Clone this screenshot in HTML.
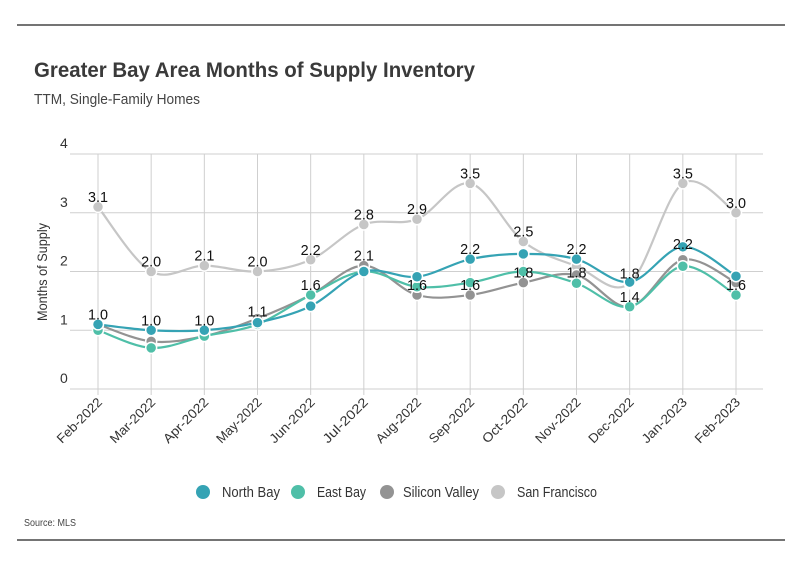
<!DOCTYPE html>
<html><head><meta charset="utf-8"><style>
body{margin:0;background:#fff;}
svg{display:block;font-family:"Liberation Sans",sans-serif;}
</style></head><body>
<svg id="chart" width="801" height="575" viewBox="0 0 801 575" xmlns="http://www.w3.org/2000/svg">
<line x1="17" y1="25" x2="785" y2="25" stroke="#222" stroke-width="1.2"/>
<text x="34" y="77" font-size="21" font-weight="bold" fill="#3a3a3a" textLength="441" lengthAdjust="spacingAndGlyphs">Greater Bay Area Months of Supply Inventory</text>
<text x="34" y="104" font-size="15" fill="#444" textLength="166" lengthAdjust="spacingAndGlyphs">TTM, Single-Family Homes</text>
<text transform="translate(47,272) rotate(-90)" text-anchor="middle" font-size="14" fill="#333" textLength="98" lengthAdjust="spacingAndGlyphs">Months of Supply</text>
<g id="grid"></g>
<g id="series"></g>
<g id="labels"></g>
<g id="xaxis"></g>
<g id="legend"></g>
<text x="24" y="526" font-size="10" fill="#444" textLength="52" lengthAdjust="spacingAndGlyphs">Source:  MLS</text>
<line x1="17" y1="540" x2="785" y2="540" stroke="#222" stroke-width="1.2"/>
</svg>
<script>
const categories=['Feb-2022','Mar-2022','Apr-2022','May-2022','Jun-2022','Jul-2022','Aug-2022','Sep-2022','Oct-2022','Nov-2022','Dec-2022','Jan-2023','Feb-2023'];
const yTicks=[0,1,2,3,4];
const northBay=[1.1,1.0,1.0,1.13,1.41,2.0,1.91,2.21,2.3,2.21,1.82,2.42,1.92];
const eastBay=[1.0,0.7,0.9,1.1,1.6,2.0,1.74,1.81,2.0,1.8,1.4,2.09,1.6];
const siliconValley=[1.1,0.81,0.9,1.2,1.6,2.1,1.6,1.6,1.81,1.94,1.4,2.2,1.81];
const sanFrancisco=[3.1,2.0,2.1,2.0,2.2,2.8,2.89,3.5,2.51,2.09,1.8,3.5,3.0];
const labelIdx=[0,1,2,3,4,5,6,7,8,10,11,12, 0,1,2,3,4,5,6,7,7,8,9,9,10,11,12];
const labelText=['3.1','2.0','2.1','2.0','2.2','2.8','2.9','3.5','2.5','1.8','3.5','3.0','1.0','1.0','1.0','1.1','1.6','2.1','1.6','2.2','1.6','1.8','2.2','1.8','1.4','2.2','1.6'];
const labelVal=[3.1,2.0,2.1,2.0,2.2,2.8,2.89,3.5,2.51,1.8,3.5,3.0,1.1,1.0,1.0,1.15,1.6,2.1,1.6,2.21,1.6,1.81,2.21,1.81,1.4,2.3,1.6];
const seriesNames=['North Bay','East Bay','Silicon Valley','San Francisco'];
const seriesColors=['#35a3b4','#4fbfa8','#939393','#c6c6c6'];
const seriesData=[northBay,eastBay,siliconValley,sanFrancisco];

const NS='http://www.w3.org/2000/svg';
const x0=98,x1=736,yTop=154,yBot=389,plotL=70,plotR=763;
const xs=i=>x0+(x1-x0)*i/(categories.length-1);
const ys=v=>yBot-(yBot-yTop)*v/4;
function mk(tag,attrs,parent){const e=document.createElementNS(NS,tag);for(const k in attrs)e.setAttribute(k,attrs[k]);parent.appendChild(e);return e;}
const grid=document.getElementById('grid');
yTicks.forEach(t=>{
  const l=mk('line',{x1:plotL,x2:plotR,y1:ys(t),y2:ys(t),stroke:'#cfcfcf','stroke-width':1},grid);
  
  
  const tx=mk('text',{x:60,y:ys(t)-6,'font-size':14,fill:'#333','text-anchor':'start'},grid);
  
  
  tx.textContent=t;
});
categories.forEach((c,i)=>{
  const l=mk('line',{x1:xs(i),x2:xs(i),y1:yTop,y2:yBot+6,stroke:'#cfcfcf','stroke-width':1},grid);
  
  
  const tx=mk('text',{transform:`translate(${xs(i)+5},${yBot+14}) rotate(-45)`,'font-size':13,fill:'#333','text-anchor':'end',textLength:58,lengthAdjust:'spacingAndGlyphs'},document.getElementById('xaxis'));
  
  
  tx.textContent=c;
});
function pathFor(vals){
  const p=vals.map((v,i)=>[xs(i),ys(v)]);
  let d=`M${p[0][0]},${p[0][1]}`;
  for(let i=0;i<p.length-1;i++){
    const a=p[Math.max(0,i-1)],b=p[i],c=p[i+1],e=p[Math.min(p.length-1,i+2)];
    const t=1/6;
    d+=` C${b[0]+(c[0]-a[0])*t},${b[1]+(c[1]-a[1])*t} ${c[0]-(e[0]-b[0])*t},${c[1]-(e[1]-b[1])*t} ${c[0]},${c[1]}`;
  }
  return d;
}
const sg=document.getElementById('series');
[3,2,1,0].forEach(s=>{
  const g=mk('g',{},sg);
  
  
  const pth=mk('path',{d:pathFor(seriesData[s]),fill:'none',stroke:seriesColors[s],'stroke-width':2.2},g);
  
  
  seriesData[s].forEach((v,i)=>{
    const c=mk('circle',{cx:xs(i),cy:ys(v),r:5.5,fill:seriesColors[s],stroke:'#fff','stroke-width':1.5},g);
    
    
  });
});
const lg=document.getElementById('labels');
labelText.forEach((t,k)=>{
  const tx=mk('text',{x:xs(labelIdx[k]),y:ys(labelVal[k])-5,'font-size':15,fill:'#111','text-anchor':'middle',textLength:20,lengthAdjust:'spacingAndGlyphs'},lg);
  
  
  tx.textContent=t;
});
const leg=document.getElementById('legend');
const legX=[203,298,387,498],legT=[222,317,403,517],legW=[58,49,76,80];
seriesNames.forEach((n,s)=>{
  const g=mk('g',{},leg);
  
  
  mk('circle',{cx:legX[s],cy:492,r:7,fill:seriesColors[s]},g);
  const tx=mk('text',{x:legT[s],y:497,'font-size':15,fill:'#333',textLength:legW[s],lengthAdjust:'spacingAndGlyphs'},g);
  
  
  tx.textContent=n;
});
</script>
</body></html>
